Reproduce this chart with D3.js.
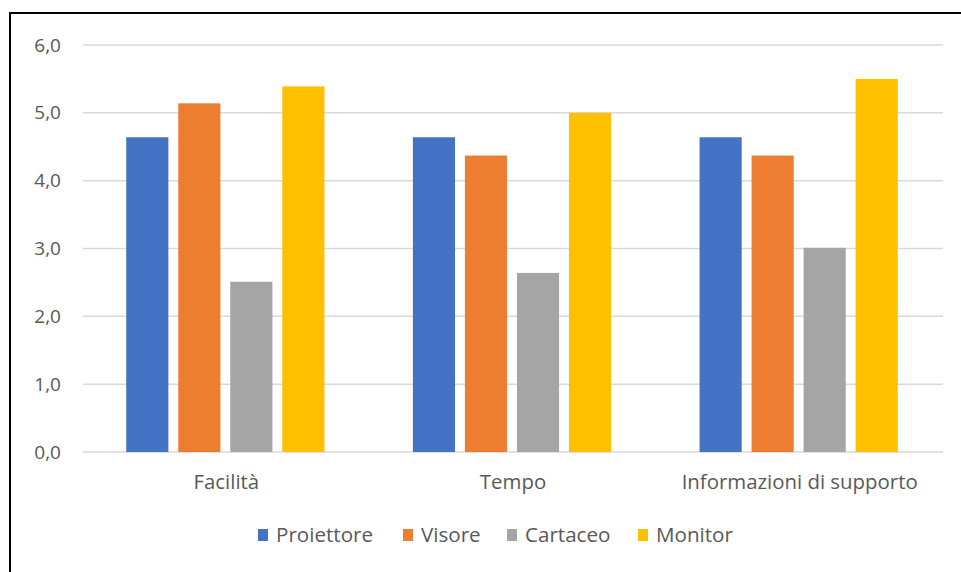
<!DOCTYPE html>
<html>
<head>
<meta charset="utf-8">
<script src="https://d3js.org/d3.v7.min.js"></script>
<style>
  body { margin: 0; background: #fff; }
  text { font-family: "Open Sans", "Noto Sans", sans-serif; fill: #595959; }
</style>
</head>
<body>
<div id="graph"></div>
<script>
var width = 961,
    height = 572

// data
var categories = ['Facilità', 'Tempo', 'Informazioni di supporto']
var series = ['Proiettore', 'Visore', 'Cartaceo', 'Monitor']
var proiettore = [4.64, 4.64, 4.64]
var visore = [5.14, 4.37, 4.37]
var cartaceo = [2.51, 2.64, 3.01]
var monitor = [5.39, 5.0, 5.5]
var yTicks = [0, 1, 2, 3, 4, 5, 6]
var colors = ['#4472C4', '#ED7D31', '#A5A5A5', '#FFC000']

var values = [proiettore, visore, cartaceo, monitor]

var svg = d3.select('#graph')
  .append('svg')
  .attr('width', width)
  .attr('height', height)

svg.append('rect')
  .attr('width', width).attr('height', height).attr('fill', '#fff')

// frame of the pasted chart (only top/left visible)
svg.append('rect')
  .attr('x', 10).attr('y', 13)
  .attr('width', 1000).attr('height', 700)
  .attr('fill', 'none').attr('stroke', '#000').attr('stroke-width', 2)

var plotLeft = 83, plotRight = 943, plotTop = 45, plotBottom = 452

var y = d3.scaleLinear().domain([0, 6]).range([plotBottom, plotTop])
var x0 = d3.scaleBand().domain(categories).range([plotLeft, plotRight])
var x1 = d3.scaleBand().domain(series).range([0, x0.bandwidth()])
    .paddingInner(0.19).paddingOuter(0.85)

// gridlines
svg.append('g')
  .selectAll('line')
  .data(yTicks)
  .join('line')
    .attr('x1', plotLeft).attr('x2', plotRight)
    .attr('y1', d => y(d)).attr('y2', d => y(d))
    .attr('stroke', '#d9d9d9').attr('stroke-width', 1.5)

// y labels
svg.append('g')
  .selectAll('text')
  .data(yTicks)
  .join('text')
    .attr('x', 61).attr('y', d => y(d))
    .attr('dy', '0.35em')
    .attr('text-anchor', 'end')
    .attr('font-size', 19)
    .text(d => d3.format('.1f')(d).replace('.', ','))

// bars
var groups = svg.append('g')
  .selectAll('g')
  .data(categories)
  .join('g')
    .attr('transform', d => 'translate(' + (x0(d) - 1) + ',0)')

groups.selectAll('rect')
  .data((c, ci) => series.map((s, si) => ({s: s, i: si, v: values[si][ci]})))
  .join('rect')
    .attr('x', d => x1(d.s))
    .attr('width', x1.bandwidth())
    .attr('y', d => y(d.v))
    .attr('height', d => y(0) - y(d.v))
    .attr('fill', d => colors[d.i])

// x labels
svg.append('g')
  .selectAll('text')
  .data(categories)
  .join('text')
    .attr('x', d => x0(d) + x0.bandwidth() / 2)
    .attr('y', 489)
    .attr('text-anchor', 'middle')
    .attr('font-size', 20.4)
    .text(d => d)

// legend
var legendX = [258, 403, 507, 638]
var legend = svg.append('g')
  .selectAll('g')
  .data(series)
  .join('g')
    .attr('transform', (d, i) => 'translate(' + legendX[i] + ',529)')
legend.append('rect')
  .attr('width', 10).attr('height', 12)
  .attr('fill', (d, i) => colors[i])
legend.append('text')
  .attr('x', 18).attr('y', 6)
  .attr('dy', '0.35em')
  .attr('font-size', 20.6)
  .text(d => d)
</script>
</body>
</html>
